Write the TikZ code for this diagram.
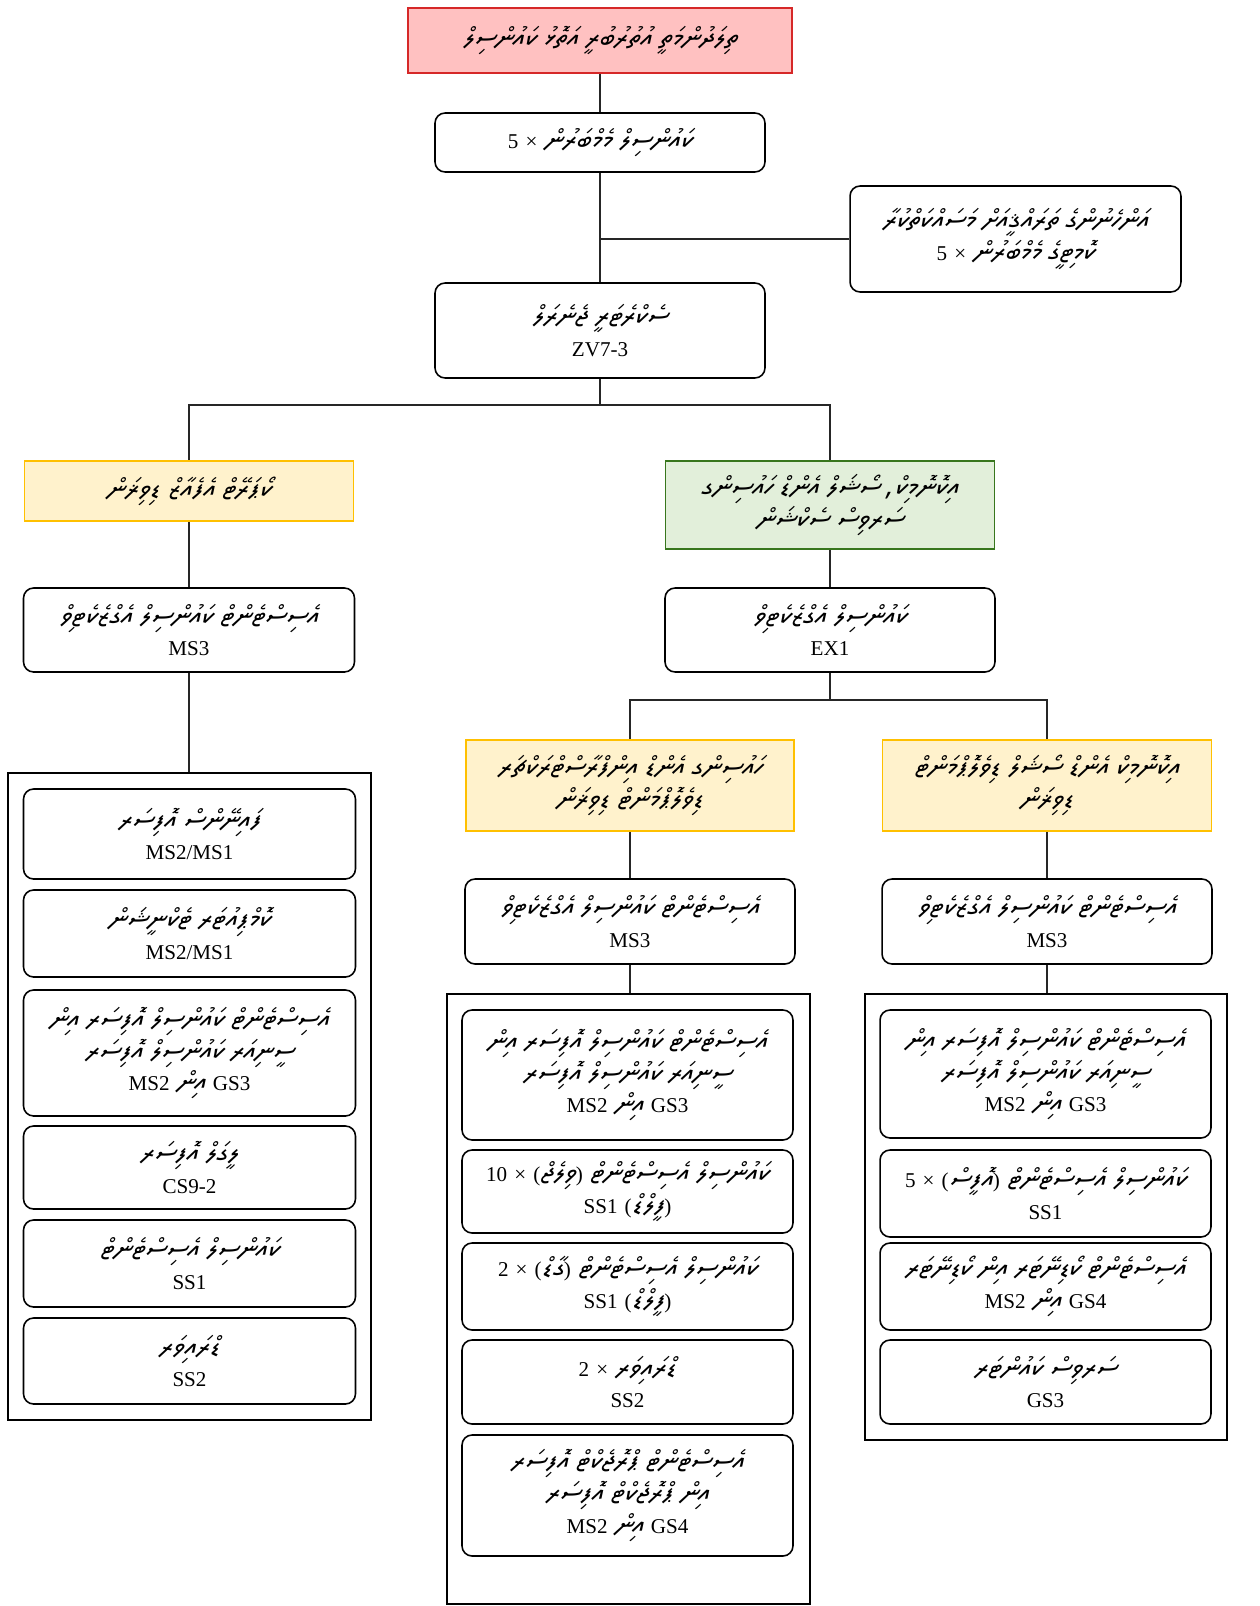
\documentclass[tikz,border=0pt]{standalone}
\usepackage{fontspec}
\setmainfont{Liberation Serif}
\newfontfamily\thaanafont[Script=Thaana,FakeSlant=0.2,Scale=1.3]{Noto Sans Thaana}
\TeXXeTstate=1
\newcommand{\dv}[1]{{\thaanafont\beginR #1\endR}}
\newcommand{\lr}[1]{{\rmfamily\beginL #1\endL}}
\usepackage{tikz}
\usetikzlibrary{positioning,calc}
\definecolor{titlefill}{RGB}{255,193,193}
\definecolor{titleline}{RGB}{214,40,40}
\definecolor{unitfill}{RGB}{255,242,204}
\definecolor{unitline}{RGB}{255,192,0}
\definecolor{secfill}{RGB}{226,239,218}
\definecolor{secline}{RGB}{56,118,29}
\tikzset{
block/.style = {draw, fill=white, rectangle, rounded corners=2mm, line width=0.9pt, align=center, minimum width=6.6cm, font=\fontsize{12}{18}\selectfont},
title/.style = {draw=titleline, fill=titlefill, rectangle, line width=0.9pt, align=center, font=\fontsize{12}{18}\selectfont},
unit/.style  = {draw=unitline, fill=unitfill, rectangle, line width=0.9pt, align=center, minimum width=6.58cm, font=\fontsize{12}{18}\selectfont},
section/.style = {draw=secline, fill=secfill, rectangle, line width=0.9pt, align=center, minimum width=6.58cm, font=\fontsize{12}{18}\selectfont},
group/.style = {draw, rectangle, line width=0.9pt, minimum width=7.26cm},
tmp/.style  = {coordinate},
link/.style = {draw, line width=0.9pt, black!85}
}
\begin{document}
\begin{tikzpicture}[auto, x=0.02cm, y=-0.02cm]
  \useasboundingbox (0,0) rectangle (1259,1606);

  \node [title, minimum width=7.68cm, minimum height=1.3cm]  (title)    at (600,40.5)   {\dv{ތިލަދުންމަތީ އުތުރުބުރީ އަތޮޅު ކައުންސިލް}};
  \node [block, minimum height=1.18cm]                        (members)  at (600,142.5)  {\dv{ކައުންސިލް މެމްބަރުން \lr{×} \lr{5}}};
  \node [block, minimum width=6.62cm, minimum height=2.12cm]  (wdc)      at (1015.5,239) {\dv{އަންހެނުންގެ ތަރައްޤީއަށް މަސައްކަތްކުރާ}\\ \dv{ކޮމިޓީގެ މެމްބަރުން \lr{×} \lr{5}}};
  \node [block, minimum height=1.9cm]                         (secgen)   at (600,330.5)  {\dv{ސެކްރެޓަރީ ޖެނެރަލް}\\ ZV7-3};
  \node [tmp]                                                 (j1)       at (600,405)    {};
  \node [unit, minimum height=1.2cm]                          (corp)     at (189,491)    {\dv{ކޯޕަރޭޓް އެފެއާޒް ޑިވިޜަން}};
  \node [section, minimum height=1.76cm]                      (econ)     at (830,505)    {\dv{އިކޮނޮމިކް، ސޯޝަލް އެންޑް ހައުސިންގ}\\ \dv{ސަރވިސް ސެކްޝަން}};
  \node [block, minimum width=6.62cm, minimum height=1.68cm]  (lms3)     at (189,630)    {\dv{އެސިސްޓެންޓް ކައުންސިލް އެގްޒެކެޓިވް}\\ MS3};
  \node [block, minimum height=1.68cm]                        (ex1)      at (830,630)    {\dv{ކައުންސިލް އެގްޒެކެޓިވް}\\ EX1};
  \node [tmp]                                                 (j2)       at (830,700)    {};
  \node [unit, minimum width=6.56cm, minimum height=1.82cm]   (mdiv)     at (630,785.5)  {\dv{ހައުސިންގ އެންޑް އިންފްރާސްޓްރަކްޗަރ}\\ \dv{ޑިވެލޮޕްމަންޓް ޑިވިޜަން}};
  \node [unit, minimum height=1.82cm]                         (rdiv)     at (1047,785.5) {\dv{އިކޮނޮމިކް އެންޑް ސޯޝަލް ޑިވެލޮޕްމަންޓް}\\ \dv{ޑިވިޜަން}};
  \node [block, minimum height=1.7cm]                         (mms3)     at (630,921.5)  {\dv{އެސިސްޓެންޓް ކައުންސިލް އެގްޒެކެޓިވް}\\ MS3};
  \node [block, minimum height=1.7cm]                         (rms3)     at (1047,921.5) {\dv{އެސިސްޓެންޓް ކައުންސިލް އެގްޒެކެޓިވް}\\ MS3};

  \node [group, minimum height=12.94cm]                       (lgrp)     at (189.5,1096.5) {};
  \node [group, minimum height=12.2cm]                        (mgrp)     at (628.5,1299)   {};
  \node [group, minimum width=7.24cm, minimum height=8.92cm]  (rgrp)     at (1046,1217)    {};

  \node [block, minimum width=6.64cm, minimum height=1.8cm]   (la)       at (189.5,834)    {\dv{ފައިނޭންސް އޮފިސަރ}\\ MS2/MS1};
  \node [block, minimum width=6.64cm, minimum height=1.74cm]  (lb)       at (189.5,933.5)  {\dv{ކޮމްޕިއުޓަރ ޓެކްނީޝަން}\\ MS2/MS1};
  \node [block, minimum width=6.64cm, minimum height=2.52cm]  (lc)       at (189.5,1053)   {\dv{އެސިސްޓެންޓް ކައުންސިލް އޮފިސަރ އިން}\\ \dv{ސީނިއަރ ކައުންސިލް އޮފިސަރ}\\ \dv{\lr{GS3} އިން \lr{MS2}}};
  \node [block, minimum width=6.64cm, minimum height=1.66cm]  (ld)       at (189.5,1167.5) {\dv{ލީގަލް އޮފިސަރ}\\ CS9-2};
  \node [block, minimum width=6.64cm, minimum height=1.74cm]  (le)       at (189.5,1263.5) {\dv{ކައުންސިލް އެސިސްޓެންޓް}\\ SS1};
  \node [block, minimum width=6.64cm, minimum height=1.72cm]  (lf)       at (189.5,1361)   {\dv{ޑްރައިވަރ}\\ SS2};

  \node [block, minimum width=6.62cm, minimum height=2.6cm]   (ma)       at (627.5,1075)   {\dv{އެސިސްޓެންޓް ކައުންސިލް އޮފިސަރ އިން}\\ \dv{ސީނިއަރ ކައުންސިލް އޮފިސަރ}\\ \dv{\lr{GS3} އިން \lr{MS2}}};
  \node [block, minimum width=6.62cm, minimum height=1.66cm]  (mb)       at (627.5,1191.5) {\dv{ކައުންސިލް އެސިސްޓެންޓް \lr{)}ވިލެޖް\lr{(} \lr{×} \lr{10}}\\ \dv{\lr{)}ފީލްޑް\lr{(} \lr{SS1}}};
  \node [block, minimum width=6.62cm, minimum height=1.74cm]  (mc)       at (627.5,1286.5) {\dv{ކައުންސިލް އެސިސްޓެންޓް \lr{)}ގާޑް\lr{(} \lr{×} \lr{2}}\\ \dv{\lr{)}ފީލްޑް\lr{(} \lr{SS1}}};
  \node [block, minimum width=6.62cm, minimum height=1.68cm]  (md)       at (627.5,1382)   {\dv{ޑްރައިވަރ \lr{×} \lr{2}}\\ SS2};
  \node [block, minimum width=6.62cm, minimum height=2.42cm]  (me)       at (627.5,1495.5) {\dv{އެސިސްޓެންޓް ޕްރޮޖެކްޓް އޮފިސަރ}\\ \dv{އިން ޕްރޮޖެކްޓް އޮފިސަރ}\\ \dv{\lr{GS4} އިން \lr{MS2}}};

  \node [block, minimum width=6.62cm, minimum height=2.56cm]  (ra)       at (1045.5,1074)   {\dv{އެސިސްޓެންޓް ކައުންސިލް އޮފިސަރ އިން}\\ \dv{ސީނިއަރ ކައުންސިލް އޮފިސަރ}\\ \dv{\lr{GS3} އިން \lr{MS2}}};
  \node [block, minimum width=6.62cm, minimum height=1.74cm]  (rb)       at (1045.5,1193.5) {\dv{ކައުންސިލް އެސިސްޓެންޓް \lr{)}އޮފީސް\lr{(} \lr{×} \lr{5}}\\ SS1};
  \node [block, minimum width=6.62cm, minimum height=1.74cm]  (rc)       at (1045.5,1286.5) {\dv{އެސިސްޓެންޓް ކޯޑިނޭޓަރ އިން ކޯޑިނޭޓަރ}\\ \dv{\lr{GS4} އިން \lr{MS2}}};
  \node [block, minimum width=6.62cm, minimum height=1.68cm]  (rd)       at (1045.5,1382)   {\dv{ސަރވިސް ކައުންޓަރ}\\ GS3};

  \draw [link] (title) -- (members);
  \draw [link] (members) -- (secgen);
  \draw [link] (wdc) -- (wdc -| secgen);
  \draw [link] (secgen) -- (j1) -| (corp);
  \draw [link] (j1) -| (econ);
  \draw [link] (corp) -- (lms3);
  \draw [link] (lms3) -- (lms3 |- lgrp.north);
  \draw [link] (econ) -- (ex1);
  \draw [link] (ex1) -- (j2) -| (mdiv);
  \draw [link] (j2) -| (rdiv);
  \draw [link] (mdiv) -- (mms3);
  \draw [link] (rdiv) -- (rms3);
  \draw [link] (mms3) -- (mms3 |- mgrp.north);
  \draw [link] (rms3) -- (rms3 |- rgrp.north);
\end{tikzpicture}
\end{document}
